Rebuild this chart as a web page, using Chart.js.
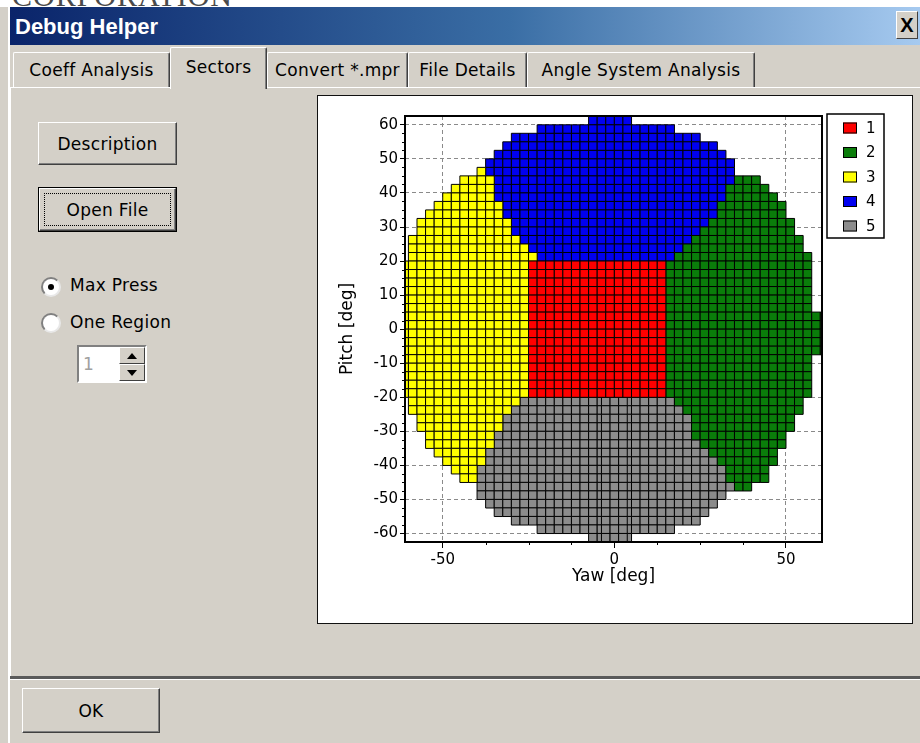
<!DOCTYPE html>
<html>
<head>
<meta charset="utf-8">
<title>Debug Helper - Sectors</title>
<script src="https://cdn.jsdelivr.net/npm/chart.js@4.4.1/dist/chart.umd.min.js"></script>
<style>
  html, body { margin: 0; padding: 0; }
  body {
    width: 920px; height: 743px; overflow: hidden; position: relative;
    background: #d4d0c8; color: #000;
    font-family: 'DejaVu Sans', sans-serif; font-size: 17px;
  }
  .abs { position: absolute; }
  #topstrip { left: 0; top: 0; width: 920px; height: 7px; background: #fff; overflow: hidden; }
  #corp { position: absolute; left: 12px; top: -19px; font: 30px/30px 'Liberation Serif', serif; color: #4a4a4a; letter-spacing: 1px; white-space: nowrap; }
  #edge { left: 8px; top: 7px; width: 2px; height: 736px; background: #fff; }
  #titlebar { left: 10px; top: 7px; width: 910px; height: 38px; background: linear-gradient(to right, #0a246a 0%, #3a6ea5 55%, #a6caf0 100%); }
  #title { left: 15px; top: 14px; font: bold 22px 'Liberation Sans', sans-serif; color: #fff; white-space: nowrap; }
  #closebtn {
    left: 896px; top: 11px; width: 22px; height: 28px; box-sizing: border-box; background: #d4d0c8;
    border-top: 1px solid #fff; border-left: 1px solid #fff; border-right: 1px solid #404040; border-bottom: 1px solid #404040;
    font: bold 20px 'Liberation Sans', sans-serif; display: flex; align-items: center; justify-content: center;
  }
  .tab {
    position: absolute; top: 52px; height: 35px; box-sizing: border-box; background: #d4d0c8;
    border-top: 1px solid #fff; border-left: 1px solid #fff; border-right: 1px solid #404040;
    box-shadow: inset -1px 0 #808080; border-radius: 2px 2px 0 0;
    display: flex; align-items: center; justify-content: center; white-space: nowrap; letter-spacing: 0.3px;
  }
  .tab.sel { top: 47px; height: 42px; z-index: 2; padding-bottom: 4px; }
  #bodyline { left: 10px; top: 87px; width: 910px; height: 1px; background: #fff; }
  #bodyleft { left: 10px; top: 87px; width: 1px; height: 589px; background: #fff; }
  .btn {
    position: absolute; box-sizing: border-box; background: #d4d0c8;
    border-top: 1px solid #fff; border-left: 1px solid #fff; border-right: 1px solid #404040; border-bottom: 1px solid #404040;
    box-shadow: inset -1px -1px #808080;
    display: flex; align-items: center; justify-content: center; white-space: nowrap; letter-spacing: 0.3px;
  }
  #openouter { left: 38px; top: 187px; width: 139px; height: 45px; box-sizing: border-box; border: 1px solid #000; }
  #focus { position: absolute; left: 4px; top: 4px; right: 4px; bottom: 4px; border: 1px dotted #000; }
  .radio {
    position: absolute; width: 20px; height: 20px; box-sizing: border-box; border-radius: 50%; background: #fff;
    border: 2px solid; border-color: #808080 #e8e8e8 #e8e8e8 #808080;
  }
  .dot { position: absolute; left: 5px; top: 5px; width: 6px; height: 6px; border-radius: 50%; background: #000; }
  .lbl { position: absolute; white-space: nowrap; letter-spacing: 0.3px; }
  #spin { left: 77px; top: 345px; width: 70px; height: 38px; box-sizing: border-box; background: #fff;
    border: 2px solid; border-color: #808080 #fff #fff #808080; }
  #spinval { position: absolute; left: 4px; top: 7px; color: #a0a0a0; }
  .spb { position: absolute; left: 40px; width: 26px; height: 17px; box-sizing: border-box; background: #d4d0c8;
    border-top: 1px solid #fff; border-left: 1px solid #fff; border-right: 1px solid #404040; border-bottom: 1px solid #404040; }
  .tri { position: absolute; left: 7px; width: 0; height: 0; border-left: 5px solid transparent; border-right: 5px solid transparent; }
  #sep { left: 10px; top: 676px; width: 910px; height: 3px; background: #5a5a5a; border-bottom: 1px solid #fff; }
  #panel { left: 317px; top: 95px; width: 596px; height: 529px; box-sizing: border-box; background: #fff; border: 1px solid #111; }
  #chart { position: absolute; left: 0; top: 0; }
</style>
</head>
<body>
<div id="topstrip" class="abs"><div id="corp">CORPORATION</div></div>
<div id="edge" class="abs"></div>
<div id="titlebar" class="abs"></div>
<div id="title" class="abs">Debug Helper</div>
<div id="closebtn" class="abs">X</div>

<div id="bodyline" class="abs"></div>
<div id="bodyleft" class="abs"></div>
<div class="tab" style="left:13px;width:157px;">Coeff Analysis</div>
<div class="tab sel" style="left:170px;width:97px;">Sectors</div>
<div class="tab" style="left:267px;width:141px;">Convert *.mpr</div>
<div class="tab" style="left:408px;width:119px;">File Details</div>
<div class="tab" style="left:527px;width:228px;">Angle System Analysis</div>

<div class="btn" style="left:38px;top:122px;width:139px;height:43px;">Description</div>
<div id="openouter" class="abs"><div class="btn" style="left:0;top:0;width:137px;height:43px;">Open File<div id="focus"></div></div></div>

<div class="radio" style="left:41px;top:277px;"><div class="dot"></div></div>
<div class="lbl" style="left:70px;top:275px;">Max Press</div>
<div class="radio" style="left:41px;top:313px;"></div>
<div class="lbl" style="left:70px;top:312px;">One Region</div>
<div id="spin" class="abs">
  <div id="spinval">1</div>
  <div class="spb" style="top:0;"><div class="tri" style="top:5px;border-bottom:6px solid #000;"></div></div>
  <div class="spb" style="top:17px;"><div class="tri" style="top:5px;border-top:6px solid #000;"></div></div>
</div>

<div id="panel" class="abs"><canvas id="chart" width="594" height="527"></canvas></div>

<div id="sep" class="abs"></div>
<div class="btn" style="left:22px;top:688px;width:138px;height:45px;">OK</div>

<script>
// sectors shown in the legend
const sectorLabels = ['1', '2', '3', '4', '5'];
const sectorColors = ['#ff0000', '#0a7d0a', '#ffff00', '#0000f0', '#8c8c8c'];

// axis ticks
const yawTicks = [-50, 0, 50];
const yawMinorTicks = [-37.5, -25, -12.5, 12.5, 25, 37.5];
const pitchTicks = [-60, -50, -40, -30, -20, -10, 0, 10, 20, 30, 40, 50, 60];

// yaw positions of the sample columns [deg]
const yawColumns = [-61.25, -58.75, -56.25, -53.75, -51.25, -48.75, -46.25, -43.75, -41.25, -38.75,
  -36.25, -33.75, -31.25, -28.75, -26.25, -23.75, -21.25, -18.75, -16.25, -13.75, -11.25, -8.75,
  -6.25, -3.75, -1.25, 1.25, 3.75, 6.25, 8.75, 11.25, 13.75, 16.25, 18.75, 21.25, 23.75, 26.25,
  28.75, 31.25, 33.75, 36.25, 38.75, 41.25, 43.75, 46.25, 48.75, 51.25, 53.75, 56.25, 58.75, 61.25];

// each row: [pitch, first yaw, last yaw] of the samples in that sector
const sector1Rows = [
  [18.75, -23.75, 13.75], [16.25, -23.75, 13.75], [13.75, -23.75, 13.75], [11.25, -23.75, 13.75],
  [8.75, -23.75, 13.75], [6.25, -23.75, 13.75], [3.75, -23.75, 13.75], [1.25, -23.75, 13.75],
  [-1.25, -23.75, 13.75], [-3.75, -23.75, 13.75], [-6.25, -23.75, 13.75], [-8.75, -23.75, 13.75],
  [-11.25, -23.75, 13.75], [-13.75, -23.75, 13.75], [-16.25, -23.75, 13.75], [-18.75, -23.75, 13.75]
];
const sector2Rows = [
  [43.75, 36.25, 41.25], [41.25, 33.75, 43.75], [38.75, 33.75, 46.25], [36.25, 31.25, 48.75],
  [33.75, 31.25, 48.75], [31.25, 28.75, 51.25], [28.75, 26.25, 51.25], [26.25, 23.75, 53.75],
  [23.75, 21.25, 53.75], [21.25, 18.75, 56.25],
  [18.75, 16.25, 56.25], [16.25, 16.25, 56.25], [13.75, 16.25, 56.25], [11.25, 16.25, 56.25],
  [8.75, 16.25, 56.25], [6.25, 16.25, 56.25],
  [3.75, 16.25, 61.25], [1.25, 16.25, 61.25], [-1.25, 16.25, 61.25], [-3.75, 16.25, 61.25], [-6.25, 16.25, 61.25],
  [-8.75, 16.25, 56.25], [-11.25, 16.25, 56.25], [-13.75, 16.25, 56.25], [-16.25, 16.25, 56.25], [-18.75, 16.25, 56.25],
  [-21.25, 18.75, 53.75], [-23.75, 21.25, 53.75], [-26.25, 23.75, 51.25], [-28.75, 23.75, 51.25],
  [-31.25, 23.75, 48.75], [-33.75, 26.25, 48.75], [-36.25, 28.75, 46.25], [-38.75, 31.25, 46.25],
  [-41.25, 33.75, 43.75], [-43.75, 33.75, 43.75], [-46.25, 36.25, 38.75]
];
const sector3Rows = [
  [46.25, -38.75, -38.75], [43.75, -43.75, -36.25], [41.25, -46.25, -36.25], [38.75, -48.75, -36.25],
  [36.25, -51.25, -33.75], [33.75, -53.75, -33.75], [31.25, -56.25, -31.25], [28.75, -56.25, -31.25],
  [26.25, -58.75, -28.75], [23.75, -58.75, -26.25], [21.25, -58.75, -23.75],
  [18.75, -61.25, -26.25], [16.25, -61.25, -26.25], [13.75, -61.25, -26.25], [11.25, -61.25, -26.25],
  [8.75, -61.25, -26.25], [6.25, -61.25, -26.25], [3.75, -61.25, -26.25], [1.25, -61.25, -26.25],
  [-1.25, -61.25, -26.25], [-3.75, -61.25, -26.25], [-6.25, -61.25, -26.25], [-8.75, -61.25, -26.25],
  [-11.25, -61.25, -26.25], [-13.75, -61.25, -26.25], [-16.25, -61.25, -26.25], [-18.75, -61.25, -26.25],
  [-21.25, -58.75, -28.75], [-23.75, -58.75, -31.25], [-26.25, -56.25, -33.75], [-28.75, -56.25, -33.75],
  [-31.25, -53.75, -36.25], [-33.75, -53.75, -36.25], [-36.25, -51.25, -38.75], [-38.75, -48.75, -38.75],
  [-41.25, -46.25, -41.25], [-43.75, -43.75, -41.25]
];
const sector4Rows = [
  [61.25, -6.25, 3.75], [58.75, -21.25, 16.25], [56.25, -28.75, 23.75], [53.75, -31.25, 28.75],
  [51.25, -33.75, 31.25], [48.75, -36.25, 33.75], [46.25, -36.25, 33.75], [43.75, -33.75, 33.75],
  [41.25, -33.75, 31.25], [38.75, -33.75, 31.25], [36.25, -31.25, 28.75], [33.75, -31.25, 28.75],
  [31.25, -28.75, 26.25], [28.75, -28.75, 23.75], [26.25, -26.25, 21.25], [23.75, -23.75, 18.75],
  [21.25, -21.25, 16.25]
];
const sector5Rows = [
  [-21.25, -26.25, 16.25], [-23.75, -28.75, 18.75], [-26.25, -31.25, 21.25], [-28.75, -31.25, 21.25],
  [-31.25, -33.75, 21.25], [-33.75, -33.75, 23.75], [-36.25, -36.25, 26.25], [-38.75, -36.25, 28.75],
  [-41.25, -38.75, 31.25], [-43.75, -38.75, 31.25], [-46.25, -38.75, 33.75], [-48.75, -38.75, 31.25],
  [-51.25, -36.25, 28.75], [-53.75, -33.75, 26.25], [-56.25, -28.75, 23.75], [-58.75, -21.25, 16.25],
  [-61.25, -6.25, 3.75]
];
const sectorRows = [sector1Rows, sector2Rows, sector3Rows, sector4Rows, sector5Rows];

// the extra-dense samples along yaw 0 in the lower sector
const spineYaw = [-2.5, 0, 2.5];
const spinePitch = [-21.25, -23.75, -26.25, -28.75, -31.25, -33.75, -36.25, -38.75, -41.25,
  -43.75, -46.25, -48.75, -51.25, -53.75, -56.25, -58.75, -61.25];

const FONT = "'DejaVu Sans', sans-serif";

// pick the sample columns that fall inside each row's extent
function rowsToPoints(rows) {
  const pts = [];
  rows.forEach(([pitch, from, to]) => {
    yawColumns.forEach(yaw => {
      if (yaw >= from && yaw <= to) pts.push({ x: yaw, y: pitch });
    });
  });
  return pts;
}

const sectorPoints = sectorRows.map(rowsToPoints);
spinePitch.forEach(p => spineYaw.forEach(yaw => sectorPoints[4].push({ x: yaw, y: p })));

// box around the plot, minor ticks and the boxed legend
const frameLegend = {
  id: 'frameLegend',
  afterDraw(chart) {
    const { ctx, chartArea: a, scales: { x, y } } = chart;
    ctx.save();
    ctx.strokeStyle = '#000';
    ctx.lineWidth = 1;
    ctx.beginPath();
    yawMinorTicks.forEach(v => {
      const px = Math.round(x.getPixelForValue(v)) + 0.5;
      ctx.moveTo(px, a.bottom);
      ctx.lineTo(px, a.bottom + 3);
    });
    for (let v = -60; v <= 60; v += 2.5) {
      if (v % 10 === 0) continue;
      const py = Math.round(y.getPixelForValue(v)) + 0.5;
      ctx.moveTo(a.left - 3, py);
      ctx.lineTo(a.left, py);
    }
    ctx.stroke();

    ctx.lineWidth = 2;
    ctx.strokeRect(a.left, a.top, a.right - a.left, a.bottom - a.top);

    // legend
    const lx = a.right + 5, ly = 18;
    ctx.lineWidth = 1.5;
    ctx.strokeRect(lx, ly, 57, 124);
    ctx.font = '15px ' + FONT;
    ctx.textBaseline = 'middle';
    ctx.textAlign = 'left';
    chart.data.datasets.forEach((ds, i) => {
      const cy = ly + 14 + i * 24.5;
      ctx.fillStyle = ds.backgroundColor;
      ctx.fillRect(lx + 16, cy - 5.5, 14, 11);
      ctx.lineWidth = 1;
      ctx.strokeRect(lx + 16.5, cy - 5, 13, 10);
      ctx.fillStyle = '#000';
      ctx.fillText(ds.label, lx + 39, cy + 1);
    });
    ctx.restore();
  }
};

new Chart(document.getElementById('chart'), {
  type: 'scatter',
  data: {
    datasets: sectorLabels.map((label, i) => ({
      label,
      data: sectorPoints[i],
      backgroundColor: sectorColors[i],
      borderColor: '#000',
      borderWidth: 1,
      pointStyle: 'rect',
      pointRadius: 6.1,
      pointHoverRadius: 6.1,
      clip: 0
    }))
  },
  options: {
    responsive: false,
    animation: false,
    events: [],
    layout: { padding: { left: 0, top: 20, right: 90, bottom: 0 } },
    plugins: { legend: { display: false }, tooltip: { enabled: false } },
    scales: {
      x: {
        type: 'linear', bounds: 'data', min: -61, max: 60.5,
        afterBuildTicks: s => { s.ticks = yawTicks.map(v => ({ value: v })); },
        afterFit: s => { s.height = 81; },
        ticks: { color: '#000', font: { family: FONT, size: 15 }, padding: 3, maxRotation: 0 },
        grid: { color: '#8a8a8a', lineWidth: 1, drawTicks: true, tickLength: 6, tickColor: '#000' },
        border: { display: false, dash: [4, 3] },
        title: { display: true, text: 'Yaw [deg]', color: '#000', font: { family: FONT, size: 17 }, padding: { top: 0, bottom: 36 } }
      },
      y: {
        type: 'linear', bounds: 'data', min: -62.5, max: 62.6,
        afterBuildTicks: s => { s.ticks = pitchTicks.map(v => ({ value: v })); },
        afterFit: s => { s.width = 87; },
        ticks: { color: '#000', font: { family: FONT, size: 15 }, padding: 2 },
        grid: { color: '#8a8a8a', lineWidth: 1, drawTicks: true, tickLength: 5, tickColor: '#000' },
        border: { display: false, dash: [4, 3] },
        title: { display: true, text: 'Pitch [deg]', color: '#000', font: { family: FONT, size: 17 }, padding: { top: 19, bottom: 0 } }
      }
    }
  },
  plugins: [frameLegend]
});
</script>
</body>
</html>
